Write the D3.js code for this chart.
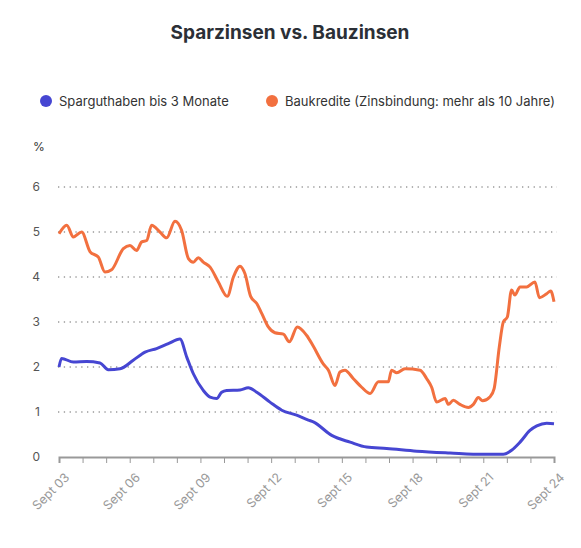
<!DOCTYPE html>
<html><head><meta charset="utf-8">
<script src="https://cdn.jsdelivr.net/npm/d3@7"></script>
<style>body{margin:0;background:#fff;font-family:Inter,"Open Sans",sans-serif}</style>
</head><body><div id="chart"></div>
<script>
// years since Sept 2003
const sparT = [0,0.11,0.61,1.17,1.74,2.09,2.59,3.15,3.65,4.14,4.64,5.13,5.42,5.7,6.12,6.41,6.69,6.9,7.11,7.68,8.03,8.39,8.95,9.45,10.08,10.58,10.79,11.57,12.35,13.05,13.9,15.18,16.59,18.0,18.85,19.2,19.56,19.98,20.27,20.69,21.0];
const sparV = [2.0,2.19,2.11,2.12,2.09,1.94,1.96,2.15,2.33,2.41,2.52,2.62,2.22,1.85,1.48,1.33,1.30,1.44,1.48,1.49,1.54,1.44,1.22,1.04,0.93,0.82,0.78,0.48,0.33,0.22,0.19,0.13,0.09,0.06,0.06,0.15,0.33,0.59,0.69,0.75,0.74];
const bauT = [0,0.33,0.61,0.96,1.32,1.67,1.95,2.23,2.73,3.01,3.29,3.51,3.72,3.93,4.28,4.57,4.92,5.2,5.49,5.7,5.91,6.12,6.41,6.76,7.14,7.4,7.68,7.89,8.13,8.39,8.6,8.88,9.16,9.52,9.77,10.11,10.51,10.79,11.21,11.43,11.71,11.92,12.13,12.49,12.84,13.2,13.55,13.97,14.11,14.33,14.68,15.32,15.6,15.81,16.02,16.38,16.52,16.73,17.01,17.37,17.58,17.79,17.97,18.29,18.46,18.68,18.85,19.02,19.2,19.34,19.56,19.84,20.19,20.38,20.69,20.86,21.0];
const bauV = [4.96,5.15,4.89,5.0,4.56,4.44,4.11,4.16,4.63,4.70,4.59,4.78,4.81,5.15,5.0,4.87,5.24,5.04,4.41,4.33,4.43,4.33,4.22,3.89,3.57,4.0,4.24,4.07,3.57,3.41,3.19,2.89,2.76,2.73,2.56,2.89,2.70,2.46,2.07,1.93,1.59,1.89,1.93,1.74,1.55,1.41,1.67,1.67,1.93,1.87,1.96,1.93,1.74,1.55,1.22,1.30,1.17,1.26,1.17,1.10,1.17,1.32,1.25,1.34,1.52,2.45,3.0,3.11,3.71,3.60,3.78,3.78,3.89,3.54,3.63,3.69,3.45];
const seriesNames = ["Sparguthaben bis 3 Monate", "Baukredite (Zinsbindung: mehr als 10 Jahre)"];
const colors = ["#4646d2", "#f2703f"];
const xTickLabels = ["Sept 03","Sept  06","Sept 09","Sept 12","Sept 15","Sept 18","Sept 21","Sept 24"];
const yTicks = [0,1,2,3,4,5,6];

const W = 581, H = 548;
const svg = d3.select("#chart").append("svg").attr("width", W).attr("height", H);

svg.append("text").attr("x", 290).attr("y", 39).attr("text-anchor", "middle")
  .attr("font-size", 19).attr("font-weight", 700).attr("fill", "#2b2f36").text("Sparzinsen vs. Bauzinsen");

// legend
const legX = [46, 272];
seriesNames.forEach((n, i) => {
  svg.append("circle").attr("cx", legX[i]).attr("cy", 101).attr("r", 6).attr("fill", colors[i]);
  svg.append("text").attr("x", legX[i] + 13).attr("y", 106).attr("font-size", 13).attr("fill", "#333").text(n);
});

const x = d3.scaleLinear().domain([0, 21]).range([59, 554]);
const y = d3.scaleLinear().domain([0, 6]).range([457, 187]);

svg.append("text").attr("x", 33).attr("y", 151).attr("font-size", 12).attr("fill", "#333").text("%");

// grid + y labels
yTicks.forEach(t => {
  if (t > 0) svg.append("line").attr("x1", 58).attr("x2", 557).attr("y1", y(t)).attr("y2", y(t))
    .attr("stroke", "#999").attr("stroke-width", 1.3).attr("stroke-dasharray", "1.3,4.5");
  svg.append("text").attr("x", 40).attr("y", y(t) + 4).attr("text-anchor", "end")
    .attr("font-size", 12).attr("fill", "#555").text(t);
});

// x axis
const xAxis = svg.append("g").attr("transform", `translate(0,${y(0)})`)
  .call(d3.axisBottom(x).tickValues(d3.range(0, 22, 1)).tickSize(6).tickFormat(""));
xAxis.select(".domain").attr("stroke", "#999").attr("stroke-width", 2);
xAxis.selectAll(".tick line").attr("stroke", "#999");
xTickLabels.forEach((l, i) => {
  const tx = x(i * 3), ty = y(0) + 15;
  svg.append("text").attr("transform", `translate(${tx + 5},${ty}) rotate(-45)`)
    .attr("text-anchor", "end").attr("dy", "0.7em").attr("font-size", 12.5).attr("fill", "#999").text(l);
});

const line = d3.line().x(d => x(d[0])).y(d => y(d[1])).curve(d3.curveMonotoneX);
[[bauT, bauV, colors[1]], [sparT, sparV, colors[0]]].forEach(([t, v, c]) => {
  svg.append("path").datum(t.map((d, i) => [d, v[i]])).attr("d", line)
    .attr("fill", "none").attr("stroke", c).attr("stroke-width", 3).attr("stroke-linejoin", "round");
});
</script></body></html>
